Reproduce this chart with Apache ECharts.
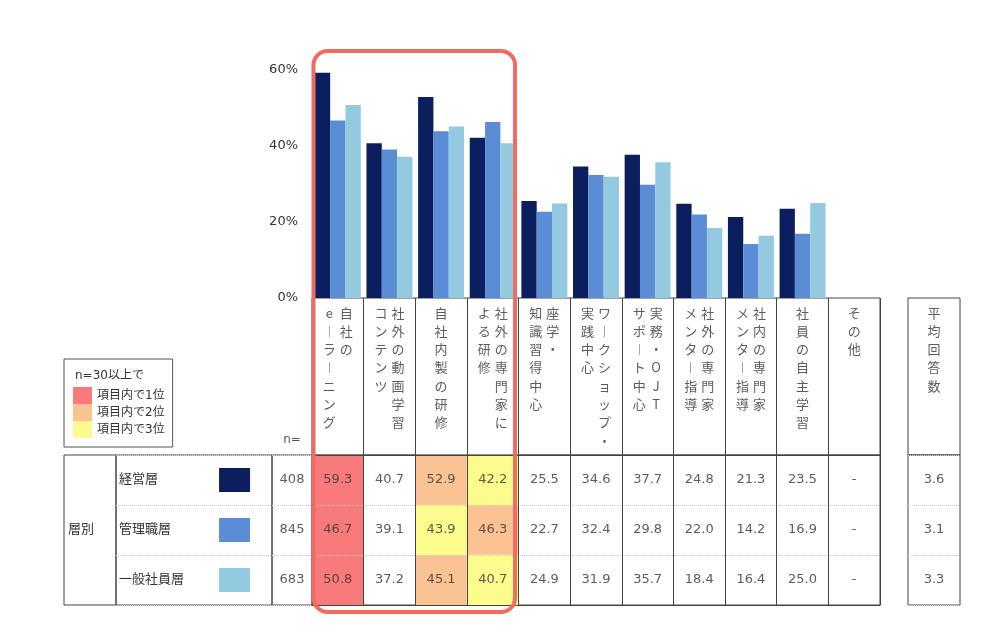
<!DOCTYPE html>
<html>
<head>
<meta charset="utf-8">
<script src="https://cdn.jsdelivr.net/npm/echarts@6/dist/echarts.min.js"></script>
<style>
  html, body { margin: 0; padding: 0; background: #fff; }
  #main { width: 1000px; height: 637px; }
</style>
</head>
<body>
<div id="main"></div>
<script>
// header columns, vertical reading order: [right column, left column]
const items = [
  ['自社の', 'e︱ラ︱ニング'],
  ['社外の動画学習', 'コンテンツ'],
  ['自社内製の研修'],
  ['社外の専門家に', 'よる研修'],
  ['座学・', '知識習得中心'],
  ['ワ︱クショップ・', '実践中心'],
  ['実務・OJT', 'サポ︱ト中心'],
  ['社外の専門家', 'メンタ︱指導'],
  ['社内の専門家', 'メンタ︱指導'],
  ['社員の自主学習'],
  ['その他']
];
const avgHeader = ['平均回答数'];
const groupLabel = '層別';
const levels = ['経営層', '管理職層', '一般社員層'];
const counts = [408, 845, 683];
const execValues = [59.3, 40.7, 52.9, 42.2, 25.5, 34.6, 37.7, 24.8, 21.3, 23.5, null];
const mgrValues = [46.7, 39.1, 43.9, 46.3, 22.7, 32.4, 29.8, 22.0, 14.2, 16.9, null];
const staffValues = [50.8, 37.2, 45.1, 40.7, 24.9, 31.9, 35.7, 18.4, 16.4, 25.0, null];
const avgAnswers = [3.6, 3.1, 3.3];
const rankNames = ['項目内で1位', '項目内で2位', '項目内で3位'];

const rows = [execValues, mgrValues, staffValues];
const barColors = ['#0b1f5e', '#5a8dd6', '#93cae0'];
const rankColors = ['#f87a7a', '#fbc294', '#fcfc8e'];
const lineColor = '#444';
const dotColor = '#cfcfcf';
const textColor = '#333';

function verticalText(cols) {
  const c = cols.slice().reverse().map(s => Array.from(s));
  const n = Math.max(...c.map(a => a.length));
  const lines = [];
  for (let i = 0; i < n; i++) {
    lines.push(c.map(a => '{v|' + (a[i] || ' ') + '}').join(''));
  }
  return lines.join('\n');
}

function rankCells(k) {
  return rows.map((vals, r) => {
    const order = vals.map((v, i) => [v, i]).filter(d => d[0] != null).sort((a, b) => b[0] - a[0]);
    return [order[k][1], r, order[k][0]];
  });
}

const idx = items.map((_, i) => i);
const vRich = { v: { width: 17, align: 'center', fontSize: 13, lineHeight: 18.3, color: textColor, fontFamily: 'Noto Sans CJK JP' } };
const box = { show: true, borderColor: lineColor, borderWidth: 1, backgroundColor: 'transparent' };
const hidden = { axisLine: { show: false }, axisTick: { show: false }, axisLabel: { show: false }, splitLine: { show: false } };
const dotted = { show: true, lineStyle: { color: dotColor, type: 'dotted', width: 1 } };
const solid = { show: true, lineStyle: { color: lineColor, width: 1 } };
const textOnly = { symbolSize: 1, itemStyle: { color: 'transparent' }, silent: true };

const chart = echarts.init(document.getElementById('main'));
chart.setOption({
  animation: false,
  textStyle: { fontFamily: "'DejaVu Sans', 'Noto Sans CJK JP', sans-serif", color: textColor },
  title: {
    text: 'n=30以上で', left: 75, top: 370, padding: 0,
    textStyle: { fontSize: 12, fontWeight: 'normal', color: textColor }
  },
  legend: {
    data: rankNames, orient: 'vertical', left: 64, top: 359,
    padding: [28, 8, 9, 9], itemGap: 0, itemWidth: 19, itemHeight: 17,
    icon: 'rect', selectedMode: false,
    borderColor: '#555', borderWidth: 1,
    textStyle: { fontSize: 12, color: textColor }
  },
  grid: [
    { left: 312, width: 568, top: 70, height: 228 },                 // bars
    Object.assign({ left: 312, width: 568, top: 298, height: 157 }, box), // header
    Object.assign({ left: 312, width: 568, top: 455, height: 150 }, box), // values
    Object.assign({ left: 908, width: 52, top: 298, height: 157 }, box),  // avg header
    Object.assign({ left: 908, width: 52, top: 455, height: 150 }, box),  // avg values
    Object.assign({ left: 64, width: 52, top: 455, height: 150 }, box),   // group
    Object.assign({ left: 116, width: 156, top: 455, height: 150 }, box), // level names
    Object.assign({ left: 272, width: 40, top: 455, height: 150 }, box)   // n
  ],
  xAxis: [
    Object.assign({ type: 'category', gridIndex: 0, data: idx }, hidden),
    Object.assign({ type: 'category', gridIndex: 1, data: idx, z: 4 }, hidden,
      { axisLine: { show: true, lineStyle: { color: lineColor } }, splitLine: solid }),
    Object.assign({ type: 'category', gridIndex: 2, data: idx, z: 4 }, hidden,
      { axisLine: { show: true, lineStyle: { color: lineColor } }, splitLine: solid }),
    Object.assign({ type: 'category', gridIndex: 3, data: [0] }, hidden),
    Object.assign({ type: 'category', gridIndex: 4, data: [0] }, hidden),
    Object.assign({ type: 'category', gridIndex: 5, data: [0] }, hidden),
    Object.assign({ type: 'value', gridIndex: 6, min: 0, max: 1 }, hidden),
    Object.assign({ type: 'category', gridIndex: 7, data: [0], position: 'top',
      name: 'n=', nameLocation: 'middle', nameGap: 9,
      nameTextStyle: { fontSize: 12, color: '#555' } }, hidden)
  ],
  yAxis: [
    Object.assign({ type: 'value', gridIndex: 0, min: 0, max: 60, interval: 20 }, hidden,
      { axisLabel: { show: true, formatter: '{value}%', fontSize: 13, margin: 14, color: textColor } }),
    Object.assign({ type: 'value', gridIndex: 1, min: 0, max: 1 }, hidden),
    Object.assign({ type: 'category', gridIndex: 2, data: levels, inverse: true, z: 3 }, hidden, { splitLine: dotted }),
    Object.assign({ type: 'value', gridIndex: 3, min: 0, max: 1 }, hidden),
    Object.assign({ type: 'category', gridIndex: 4, data: levels, inverse: true }, hidden, { splitLine: dotted }),
    Object.assign({ type: 'category', gridIndex: 5, data: [groupLabel] }, hidden,
      { axisLabel: { show: true, inside: true, margin: 4, fontSize: 13, color: textColor } }),
    Object.assign({ type: 'category', gridIndex: 6, data: levels, inverse: true }, hidden,
      { splitLine: dotted, axisLabel: { show: true, inside: true, margin: 3, fontSize: 13, color: textColor } }),
    Object.assign({ type: 'category', gridIndex: 7, data: levels, inverse: true }, hidden, { splitLine: dotted })
  ],
  series: [
    // bars
    ...rows.map((vals, r) => ({
      type: 'bar', name: levels[r], xAxisIndex: 0, yAxisIndex: 0,
      data: vals, barGap: 0, barCategoryGap: '11%',
      itemStyle: { color: barColors[r] }, silent: true
    })),
    // header texts
    Object.assign({
      type: 'scatter', xAxisIndex: 1, yAxisIndex: 1,
      data: idx.map(i => [i, 1]),
      label: { show: true, position: 'bottom', distance: 5, formatter: p => verticalText(items[p.dataIndex]), rich: vRich }
    }, textOnly),
    Object.assign({
      type: 'scatter', xAxisIndex: 3, yAxisIndex: 3,
      data: [[0, 1]],
      label: { show: true, position: 'bottom', distance: 5, formatter: () => verticalText(avgHeader), rich: vRich }
    }, textOnly),
    // rank highlight cells
    ...rankNames.map((name, k) => ({
      type: 'heatmap', name: name, xAxisIndex: 2, yAxisIndex: 2,
      data: rankCells(k), itemStyle: { color: rankColors[k] }, silent: true
    })),
    // value texts
    Object.assign({
      type: 'scatter', xAxisIndex: 2, yAxisIndex: 2, z: 5,
      data: rows.flatMap((vals, r) => vals.map((v, i) => [i, r, v])),
      label: { show: true, position: 'inside', fontSize: 13, color: textColor,
        formatter: p => p.value[2] == null ? '-' : p.value[2].toFixed(1) }
    }, textOnly),
    Object.assign({
      type: 'scatter', xAxisIndex: 4, yAxisIndex: 4,
      data: avgAnswers.map((v, r) => [0, r, v]),
      label: { show: true, position: 'inside', fontSize: 13, color: textColor,
        formatter: p => p.value[2].toFixed(1) }
    }, textOnly),
    Object.assign({
      type: 'scatter', xAxisIndex: 7, yAxisIndex: 7,
      data: counts.map((v, r) => [0, r, v]),
      label: { show: true, position: 'inside', fontSize: 13, color: textColor,
        formatter: p => String(p.value[2]) }
    }, textOnly),
    // level swatches
    {
      type: 'scatter', xAxisIndex: 6, yAxisIndex: 6, silent: true,
      symbol: 'rect', symbolSize: [31, 24],
      data: levels.map((l, r) => ({ value: [0.76, r], itemStyle: { color: barColors[r], opacity: 1 } }))
    }
  ]
});

// highlight frame around the first four items
const c0 = chart.convertToPixel({ xAxisIndex: 0 }, 0);
const band = chart.convertToPixel({ xAxisIndex: 0 }, 1) - c0;
const fLeft = c0 - band / 2;
const fRight = chart.convertToPixel({ xAxisIndex: 0 }, 3) + band / 2;
chart.setOption({
  graphic: [{
    type: 'rect', z: 100, silent: true,
    shape: { x: fLeft + 1.5, y: 51, width: fRight - fLeft - 5, height: 561, r: 14 },
    style: { fill: 'none', stroke: '#f36a5f', lineWidth: 4 }
  }]
});
</script>
</body>
</html>
